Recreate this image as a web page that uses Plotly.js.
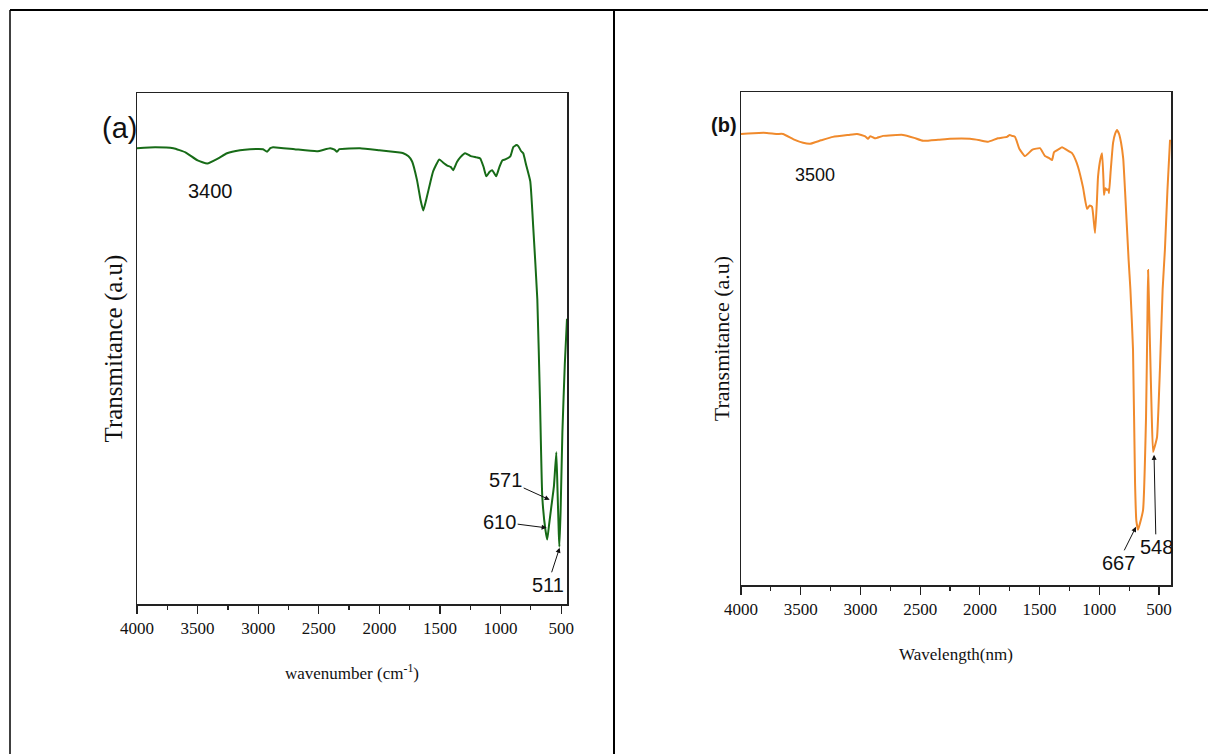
<!DOCTYPE html>
<html><head><meta charset="utf-8">
<script src="https://cdn.plot.ly/plotly-3.0.1.min.js"></script>
<style>html,body{margin:0;padding:0;background:#fff;}#chart{width:1208px;height:754px;}</style>
</head><body><div id="chart"></div>
<script>
// Panel (a): FTIR spectrum
const wavenumberA = [4000,3850,3700,3600,3500,3420,3330,3257,3150,3067,2960,2927,2900,2877,2700,2514,2406,2370,2350,2330,2160,2000,1850,1803,1760,1730,1690,1660,1638,1610,1580,1556,1506,1470,1440,1410,1391,1360,1333,1292,1250,1200,1168,1140,1118,1090,1069,1050,1036,1010,986,961,920,895,870,854,830,813,790,755,730,697,675,656,630,615,600,581,560,540,530,520,515,505,490,470,452];
const transmittanceA = [89.2,89.4,89.2,88.4,86.8,86.2,87.2,88.2,88.8,89.0,89.0,88.5,89.2,89.4,89.0,88.6,89.2,88.9,88.5,89.0,89.2,88.8,88.4,88.2,87.6,86.6,83.0,79.0,77.0,79.5,82.5,84.7,87.0,86.3,85.8,85.5,84.9,86.5,87.4,88.2,87.7,87.4,87.2,85.5,83.7,84.6,84.9,84.2,83.7,85.5,86.8,87.0,87.6,89.4,89.8,89.6,88.6,88.2,86.0,82.7,73.5,59.7,40.0,21.0,14.5,12.6,15.5,19.1,23.0,29.7,22.0,14.0,11.2,18.0,33.6,47.0,55.8];

// Panel (b)
const wavenumberB = [4000,3850,3783,3700,3648,3560,3480,3422,3330,3230,3100,3029,2960,2937,2920,2903,2880,2861,2811,2644,2550,2476,2350,2250,2083,2000,1932,1850,1773,1750,1731,1706,1670,1622,1560,1497,1455,1420,1396,1379,1340,1312,1270,1229,1200,1178,1137,1103,1080,1061,1036,1020,1011,990,977,965,961,950,936,925,919,905,885,868,852,835,818,800,785,755,740,718,701,690,676,660,634,609,597,592,585,575,562,550,535,517,492,470,451,430,408];
const transmittanceB = [91.5,91.7,91.7,91.5,91.5,90.4,89.7,89.5,90.2,90.9,91.3,91.5,91.0,90.5,91.0,90.9,90.6,90.7,91.1,91.3,90.7,90.1,90.3,90.5,90.5,90.2,89.9,90.6,90.9,91.3,91.1,90.9,88.5,87.0,88.3,88.6,87.0,86.6,86.2,87.8,88.4,88.8,88.2,87.6,86.3,84.8,80.7,76.3,77.0,76.7,71.4,78.0,82.8,86.5,87.6,82.0,79.1,80.5,80.1,80.3,79.5,84.0,89.7,91.5,92.3,91.5,89.7,86.5,80.1,66.0,60.0,47.7,20.7,13.0,11.2,12.5,15.2,34.1,55.0,63.9,58.0,47.7,35.0,27.0,28.2,30.0,44.2,60.0,68.0,80.0,90.3];

const xTickVals = [4000,3500,3000,2500,2000,1500,1000,500];
const xTickText = ['4000','3500','3000','2500','2000','1500','1000','500'];

// peak labels: [text, wavenumber, transmittance]
const peaksA = [['571',595,20.4],['610',620,14.9],['511',513,11.0]];
const peaksB = [['667',693,11.8],['548',542,26.4]];
const bandA = ['3400',3395,80.9];
const bandB = ['3500',3380,83.2];

const W = 1208, H = 754;
const serif = 'Liberation Serif, Times New Roman, serif';
const sans = 'Liberation Sans, Arial, sans-serif';

function xAxis(dom, range, title, standoff){
  return {
    domain: dom, range: range, autorange: false,
    tickvals: xTickVals, ticktext: xTickText,
    ticks: 'outside', ticklen: 8, tickwidth: 1.2, tickcolor: '#222',
    minor: {dtick: 250, tick0: 0, ticks: 'outside', ticklen: 4, tickwidth: 1.2, tickcolor: '#222', showgrid: false},
    showline: true, mirror: true, linecolor: '#222', linewidth: 1.5,
    showgrid: false, zeroline: false,
    tickfont: {family: serif, size: 17, color: '#111'},
    title: {text: title, font: {family: serif, size: 17, color: '#111'}, standoff: standoff}
  };
}
function yAxis(dom, anchor, titleSize, standoff){
  return {
    domain: dom, anchor: anchor, range: [0, 100], autorange: false,
    showline: true, mirror: true, linecolor: '#222', linewidth: 1.5,
    showticklabels: false, ticks: '', showgrid: false, zeroline: false,
    title: {text: 'Transmitance (a.u)', font: {family: serif, size: titleSize, color: '#111'}, standoff: standoff}
  };
}

const traces = [
  {x: wavenumberA, y: transmittanceA, xaxis: 'x', yaxis: 'y', type: 'scatter', mode: 'lines',
   line: {color: '#176b17', width: 2, shape: 'spline', smoothing: 0.4}, hoverinfo: 'x+y'},
  {x: wavenumberB, y: transmittanceB, xaxis: 'x2', yaxis: 'y2', type: 'scatter', mode: 'lines',
   line: {color: '#f08a2c', width: 2, shape: 'spline', smoothing: 0.4}, hoverinfo: 'x+y'}
];

const offA = {'571': [-44,-20], '610': [-47,-6], '511': [-12,37]};
const offB = {'667': [-18,36], '548': [2,92]};
const annFont = {family: sans, size: 20, color: '#111'};
const annotations = [];
peaksA.forEach(p => annotations.push({xref:'x', yref:'y', x:p[1], y:p[2], text:p[0], showarrow:true,
  ax: offA[p[0]][0], ay: offA[p[0]][1], arrowhead: 2, arrowsize: 1, arrowwidth: 1, arrowcolor: '#111', font: annFont}));
peaksB.forEach(p => annotations.push({xref:'x2', yref:'y2', x:p[1], y:p[2], text:p[0], showarrow:true,
  ax: offB[p[0]][0], ay: offB[p[0]][1], arrowhead: 2, arrowsize: 1, arrowwidth: 1, arrowcolor: '#111', font: annFont}));
annotations.push({xref:'x', yref:'y', x:bandA[1], y:bandA[2], text:bandA[0], showarrow:false, font: annFont});
annotations.push({xref:'x2', yref:'y2', x:bandB[1], y:bandB[2], text:bandB[0], showarrow:false, font: {family: sans, size: 18, color: '#111'}});
annotations.push({xref:'paper', yref:'paper', x:120/W, y:1-128/H, xanchor:'center', yanchor:'middle', text:'(a)', showarrow:false,
  font:{family: sans, size: 29, color:'#111'}});
annotations.push({xref:'paper', yref:'paper', x:724/W, y:1-125/H, xanchor:'center', yanchor:'middle', text:'<b>(b)</b>', showarrow:false,
  font:{family: sans, size: 20, color:'#111'}});

const shapes = [
  {type:'line', xref:'paper', yref:'paper', x0:10/W, x1:1, y0:1-10/H, y1:1-10/H, line:{color:'#000', width:2}},
  {type:'line', xref:'paper', yref:'paper', x0:10/W, x1:10/W, y0:0, y1:1-10/H, line:{color:'#000', width:1.5}},
  {type:'line', xref:'paper', yref:'paper', x0:614/W, x1:614/W, y0:0, y1:1-10/H, line:{color:'#000', width:2}}
];

const layout = {
  width: W, height: H, margin: {l:0, r:0, t:0, b:0},
  paper_bgcolor: '#fff', plot_bgcolor: '#fff', showlegend: false,
  xaxis: Object.assign(xAxis([137/W, 567/W], [4000, 452], 'wavenumber (cm<sup>-1</sup>)', 30), {anchor: 'y'}),
  yaxis: yAxis([1-604/H, 1-93/H], 'x', 25, 6),
  xaxis2: Object.assign(xAxis([741/W, 1171/W], [4000, 400], 'Wavelength(nm)', 30), {anchor: 'y2'}),
  yaxis2: yAxis([1-585/H, 1-92/H], 'x2', 22, 4),
  annotations: annotations, shapes: shapes
};

Plotly.newPlot('chart', traces, layout, {displayModeBar: false, staticPlot: true});
</script></body></html>
